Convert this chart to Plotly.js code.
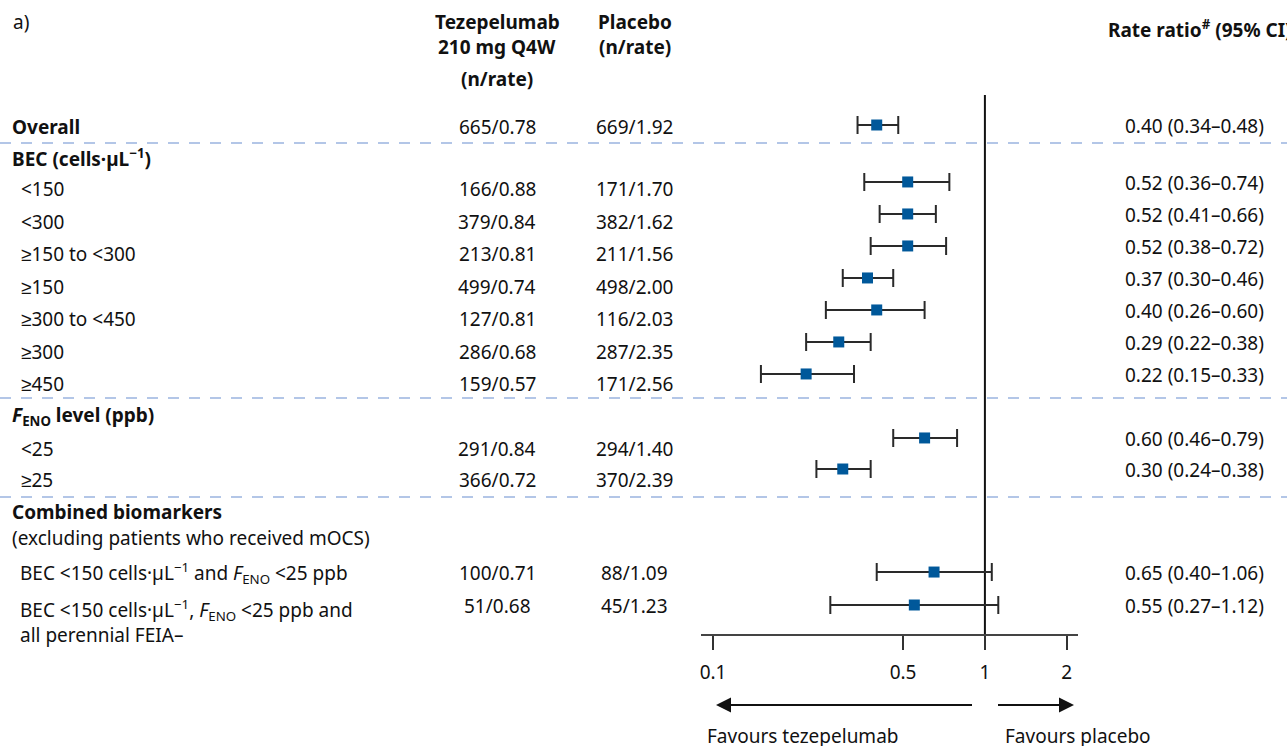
<!DOCTYPE html>
<html>
<head>
<meta charset="utf-8">
<script src="https://cdn.plot.ly/plotly-3.0.1.min.js"></script>
<style>html,body{margin:0;padding:0;background:#fff;}</style>
</head>
<body>
<div id="chart" style="width:1287px;height:746px;"></div>
<script>
// ---------------- DATA ----------------
const subgroupLabels = [
  '<b>Overall</b>',
  '<150', '<300', '≥150 to <300', '≥150', '≥300 to <450', '≥300', '≥450',
  '<25', '≥25',
  'BEC <150 cells·µL<sup>−1</sup> and <i>F</i><sub>ENO</sub> <25 ppb',
  'BEC <150 cells·µL<sup>−1</sup>, <i>F</i><sub>ENO</sub> <25 ppb and<br>all perennial FEIA–'
];
const sectionHeaders = ['BEC (cells·µL<sup>−1</sup>)', '<i>F</i><sub>ENO</sub> level (ppb)', 'Combined biomarkers'];
const sectionNote = '(excluding patients who received mOCS)';

const tezeN    = [665, 166, 379, 213, 499, 127, 286, 159, 291, 366, 100, 51];
const tezeRate = [0.78, 0.88, 0.84, 0.81, 0.74, 0.81, 0.68, 0.57, 0.84, 0.72, 0.71, 0.68];
const placN    = [669, 171, 382, 211, 498, 116, 287, 171, 294, 370, 88, 45];
const placRate = [1.92, 1.70, 1.62, 1.56, 2.00, 2.03, 2.35, 2.56, 1.40, 2.39, 1.09, 1.23];

const rateRatio = [0.40, 0.52, 0.52, 0.52, 0.37, 0.40, 0.29, 0.22, 0.60, 0.30, 0.65, 0.55];
const ciLow     = [0.34, 0.36, 0.41, 0.38, 0.30, 0.26, 0.22, 0.15, 0.46, 0.24, 0.40, 0.27];
const ciHigh    = [0.48, 0.74, 0.66, 0.72, 0.46, 0.60, 0.38, 0.33, 0.79, 0.38, 1.06, 1.12];

const tickVals = [0.1, 0.5, 1, 2];
const tickText = ['0.1', '0.5', '1', '2'];
const nullValue = 1;

// ---------------- LAYOUT GEOMETRY ----------------
const W = 1287, H = 746;
const px = x => x / W;
const py = y => 1 - y / H;
const plotLeft = 701, plotRight = 1078, plotTop = 95, plotBottom = 634;
const xRange = [Math.log10(0.0903), Math.log10(2.20)];
const rowPx = 32, row0Px = 125;
const yTop = (plotTop - row0Px) / rowPx, yBottom = (plotBottom - row0Px) / rowPx;
// row positions (in row units) of labels and of the CI markers
const labelRow  = [0.06, 2.0, 3.02, 4.03, 5.05, 6.06, 7.08, 8.09, 10.12, 11.09, 14.0, 15.03];
const markerRow = [0, 1.78, 2.78, 3.78, 4.78, 5.78, 6.78, 7.78, 9.78, 10.75, 13.97, 15.0];
const headerRow = [1.03, 9.09, 12.09];
const noteRow = 12.9;
const separatorRow = [0.5625, 8.53, 11.625];
const labelIndent = [10, 19, 19, 19, 19, 19, 19, 19, 19, 19, 18, 18];

const textColor = '#111';
const annotations = [];
function txt(text, x, y, opts) {
  annotations.push(Object.assign({
    text: text, x: x, y: y, xref: 'paper', yref: 'y', showarrow: false,
    xanchor: 'left', yanchor: 'middle', font: {color: textColor}
  }, opts || {}));
}

// column headers
txt('a)', px(11), py(22), {yref: 'paper'});
txt('<b>Tezepelumab</b>', px(497), py(22), {yref: 'paper', xanchor: 'center'});
txt('<b>210 mg Q4W</b>', px(497), py(47), {yref: 'paper', xanchor: 'center'});
txt('<b>(n/rate)</b>', px(497), py(79), {yref: 'paper', xanchor: 'center'});
txt('<b>Placebo</b>', px(635), py(22), {yref: 'paper', xanchor: 'center'});
txt('<b>(n/rate)</b>', px(635), py(47), {yref: 'paper', xanchor: 'center'});
txt('<b>Rate ratio<sup>#</sup> (95% CI)</b>', px(1106), py(29), {yref: 'paper'});

// section headers
sectionHeaders.forEach((h, i) => txt('<b>' + h + '</b>', px(10), headerRow[i]));
txt(sectionNote, px(10), noteRow);

// rows
subgroupLabels.forEach((lab, i) => {
  const multi = lab.indexOf('<br>') >= 0;
  if (multi) {
    txt(lab, px(labelIndent[i]), labelRow[i], {yanchor: 'top', yshift: 13, align: 'left'});
  } else {
    txt(lab, px(labelIndent[i]), labelRow[i]);
  }
  txt(tezeN[i] + '/' + tezeRate[i].toFixed(2), px(497), labelRow[i], {xanchor: 'center'});
  txt(placN[i] + '/' + placRate[i].toFixed(2), px(634), labelRow[i], {xanchor: 'center'});
  txt(rateRatio[i].toFixed(2) + ' (' + ciLow[i].toFixed(2) + '–' + ciHigh[i].toFixed(2) + ')',
      px(1266), markerRow[i] + 0.03, {xanchor: 'right'});
});

// favours labels
txt('Favours tezepelumab', px(705), py(736), {yref: 'paper'});
txt('Favours placebo', px(1003), py(736), {yref: 'paper'});

// shapes
const shapes = [];
separatorRow.forEach(r => shapes.push({
  type: 'line', xref: 'paper', yref: 'y', x0: 0, x1: 1, y0: r, y1: r, layer: 'below',
  line: {color: '#9ab4df', width: 1.5, dash: '11px,10px'}
}));
const arrowY = 705;
shapes.push({type: 'line', xref: 'paper', yref: 'paper', x0: px(728), x1: px(972), y0: py(arrowY), y1: py(arrowY),
  line: {color: '#111', width: 2}});
shapes.push({type: 'path', xref: 'paper', yref: 'paper',
  path: `M ${px(716)},${py(arrowY)} L ${px(731)},${py(arrowY - 7.5)} L ${px(731)},${py(arrowY + 7.5)} Z`,
  fillcolor: '#111', line: {color: '#111', width: 0}});
shapes.push({type: 'line', xref: 'paper', yref: 'paper', x0: px(998), x1: px(1062), y0: py(arrowY), y1: py(arrowY),
  line: {color: '#111', width: 2}});
shapes.push({type: 'path', xref: 'paper', yref: 'paper',
  path: `M ${px(1074)},${py(arrowY)} L ${px(1059)},${py(arrowY - 7.5)} L ${px(1059)},${py(arrowY + 7.5)} Z`,
  fillcolor: '#111', line: {color: '#111', width: 0}});

// traces
const refLine = {
  x: [nullValue, nullValue], y: [yBottom, yTop], mode: 'lines', type: 'scatter',
  line: {color: '#111', width: 2}, hoverinfo: 'skip', cliponaxis: false, showlegend: false
};
const forest = {
  x: rateRatio, y: markerRow, type: 'scatter', mode: 'markers', cliponaxis: false, showlegend: false,
  marker: {symbol: 'square', size: 11, color: '#00589a'},
  error_x: {
    type: 'data', symmetric: false,
    array: ciHigh.map((h, i) => h - rateRatio[i]),
    arrayminus: ciLow.map((l, i) => rateRatio[i] - l),
    color: '#2a2a2a', thickness: 2, width: 9
  }
};

const layout = {
  width: W, height: H, autosize: false,
  margin: {l: 0, r: 0, t: 0, b: 0, pad: 0},
  paper_bgcolor: '#fff', plot_bgcolor: 'rgba(0,0,0,0)',
  font: {family: '"Noto Sans", sans-serif', size: 19, color: textColor},
  showlegend: false,
  xaxis: {
    type: 'log', domain: [px(plotLeft), px(plotRight)], range: xRange,
    tickmode: 'array', tickvals: tickVals, ticktext: tickText,
    ticks: 'outside', ticklen: 14, tickwidth: 2, tickcolor: '#333',
    showline: true, linecolor: '#444', linewidth: 2,
    showgrid: false, zeroline: false, fixedrange: true,
    tickfont: {size: 19, color: textColor}, ticklabelstandoff: 6
  },
  yaxis: {
    domain: [py(plotBottom), py(plotTop)], range: [yBottom, yTop],
    visible: false, fixedrange: true
  },
  shapes: shapes,
  annotations: annotations
};

Plotly.newPlot('chart', [refLine, forest], layout, {displayModeBar: false, staticPlot: true});
</script>
</body>
</html>
